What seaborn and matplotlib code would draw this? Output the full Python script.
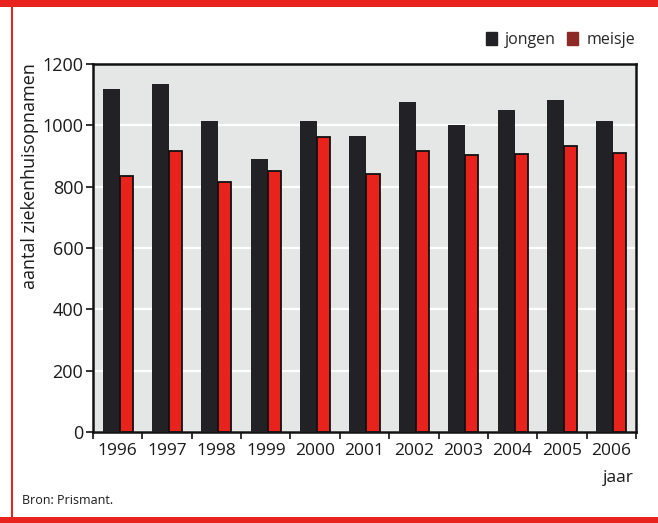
import numpy as np
import pandas as pd
import matplotlib
matplotlib.use("Agg")
import matplotlib.pyplot as plt
from matplotlib.patches import Rectangle, Patch
import seaborn as sns

jaren = ["1996", "1997", "1998", "1999", "2000", "2001", "2002", "2003", "2004", "2005", "2006"]
jongen = [1117, 1135, 1014, 890, 1015, 966, 1077, 1001, 1050, 1083, 1015]
meisje = [835, 917, 816, 852, 963, 841, 917, 903, 907, 933, 911]
y_ticks = [0, 200, 400, 600, 800, 1000, 1200]

df = pd.DataFrame({
    "jaar": jaren * 2,
    "aantal": jongen + meisje,
    "geslacht": ["jongen"] * len(jaren) + ["meisje"] * len(jaren),
})

sns.set_theme(style="white")
plt.rcParams["font.family"] = ["Open Sans", "DejaVu Sans"]

BLACK = "#222226"
RED = "#e8231e"
LEG_RED = "#8c2a28"
BG = "#e5e7e7"

fig = plt.figure(figsize=(6.58, 5.23), dpi=100)
ax = fig.add_axes([93 / 658, 1 - 432 / 523, (636 - 93) / 658, (432 - 64) / 523])

sns.barplot(data=df, x="jaar", y="aantal", hue="geslacht", order=jaren,
            hue_order=["jongen", "meisje"], palette=[BLACK, RED],
            width=0.61, dodge=True, ax=ax, legend=False, errorbar=None,
            saturation=1, zorder=3)

# adjust bar widths: black wider, red narrower with black edge
n = len(jaren)
for i, p in enumerate(ax.patches[: 2 * n]):
    x0 = p.get_x()
    if i < n:
        p.set_width(0.344)
        p.set_edgecolor(BLACK)
        p.set_linewidth(0)
    else:
        p.set_x(x0 + 0.039)
        p.set_width(0.266)
        p.set_edgecolor("#111111")
        p.set_linewidth(1.3)

ax.set_facecolor(BG)
ax.set_xlim(-0.5, n - 0.5)
ax.set_ylim(0, 1200)
ax.set_yticks(y_ticks)
ax.yaxis.grid(True, color="white", linewidth=1.6, zorder=0)
ax.set_axisbelow(True)
for s in ax.spines.values():
    s.set_visible(True)
    s.set_color("#111111")
    s.set_linewidth(1.8)

ax.set_xticks(range(n))
ax.set_xticklabels(jaren)
ax.set_xticks(np.arange(-0.5, n, 1.0), minor=True)
ax.tick_params(axis="x", which="major", length=0, pad=8, labelsize=12.5, colors="#1a1a1a")
ax.tick_params(axis="x", which="minor", length=5, width=1.2, direction="out", color="#111111", bottom=True)
ax.tick_params(axis="y", which="major", length=5, width=1.2, direction="out", color="#111111",
               left=True, pad=2, labelsize=13, labelcolor="#1a1a1a")
ax.set_xlabel("")
ax.set_ylabel("")

fig.text(30 / 658, 1 - 176 / 523, "aantal ziekenhuisopnamen", rotation=90,
         ha="center", va="center", fontsize=13, color="#1a1a1a")
fig.text(634 / 658, 1 - 478 / 523, "jaar", ha="right", va="center", fontsize=12.5, color="#1a1a1a")
fig.text(22 / 658, 1 - 500 / 523, "Bron: Prismant.", ha="left", va="center", fontsize=9, color="#1a1a1a")

handles = [Patch(facecolor=BLACK, edgecolor=BLACK), Patch(facecolor=LEG_RED, edgecolor=LEG_RED)]
fig.legend(handles, ["jongen", "meisje"], loc="center right",
           bbox_to_anchor=(643 / 658, 1 - 40 / 523), ncol=2, frameon=False,
           fontsize=11.5, handlelength=0.7, handleheight=0.9, handletextpad=0.5,
           columnspacing=0.7, borderpad=0)

# red page border
fig.patches.append(Rectangle((0, 1 - 7 / 523), 1, 7 / 523, transform=fig.transFigure,
                             facecolor=RED, edgecolor="none", zorder=0))
fig.patches.append(Rectangle((0, 0), 1, 6 / 523, transform=fig.transFigure,
                             facecolor=RED, edgecolor="none", zorder=0))
fig.patches.append(Rectangle((11 / 658, 0), 2 / 658, 1, transform=fig.transFigure,
                             facecolor=RED, edgecolor="none", zorder=0))

fig.savefig("out.png", dpi=100)
